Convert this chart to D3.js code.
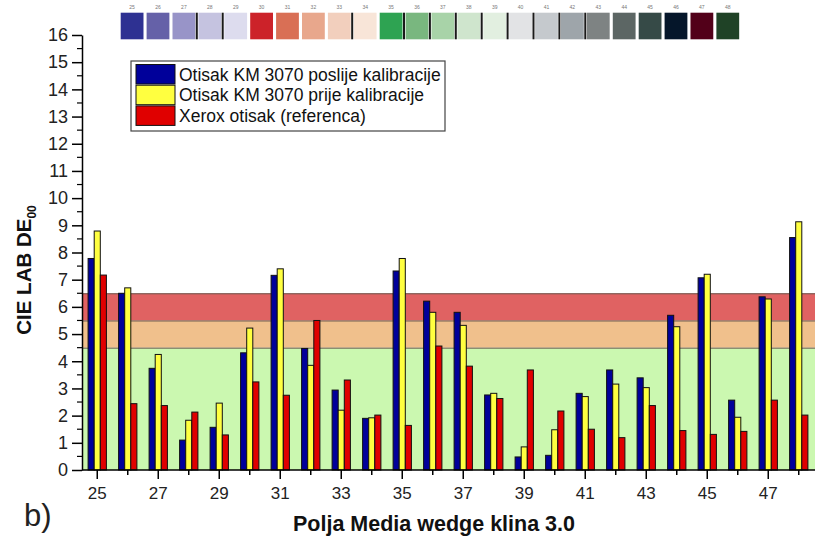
<!DOCTYPE html>
<html>
<head>
<meta charset="utf-8">
<script src="https://cdn.jsdelivr.net/npm/d3@7/dist/d3.min.js"></script>
<style>
body { margin: 0; background: #fff; }
svg { display: block; font-family: "Liberation Sans", Arial, sans-serif; }
</style>
</head>
<body>
<div id="container"></div>
<script>
// polja (patches) of the Media wedge 3.0
var fields = ["25","26","27","28","29","30","31","32","33","34","35","36",
              "37","38","39","40","41","42","43","44","45","46","47","48"];

// DE00 values per series
var poslije = [7.78, 6.50, 3.74, 1.10, 1.57, 4.31, 7.16, 4.47, 2.94, 1.90, 7.32, 6.21,
               5.80, 2.76, 0.48, 0.54, 2.82, 3.68, 3.39, 5.69, 7.07, 2.57, 6.37, 8.55];
var prije   = [8.79, 6.70, 4.25, 1.83, 2.46, 5.22, 7.40, 3.85, 2.20, 1.92, 7.78, 5.80,
               5.32, 2.82, 0.85, 1.48, 2.70, 3.16, 3.03, 5.27, 7.20, 1.94, 6.29, 9.13];
var xerox   = [7.17, 2.44, 2.37, 2.13, 1.29, 3.24, 2.75, 5.50, 3.31, 2.02, 1.64, 4.56,
               3.82, 2.63, 3.68, 2.17, 1.50, 1.19, 2.37, 1.45, 1.31, 1.42, 2.57, 2.02];

var seriesNames = ["Otisak KM 3070 poslije kalibracije",
                   "Otisak KM 3070 prije kalibracije",
                   "Xerox otisak (referenca)"];
var seriesColors = ["#00009a", "#ffff40", "#e00000"];

// tolerance zones
var zoneFrom = [0, 4.5, 5.5];
var zoneTo = [4.5, 5.5, 6.5];
var zoneColors = ["#cbf8b0", "#f0c08c", "#e06262"];

// colour strip of the wedge patches
var swatchColors = ["#2e3192","#6561a8","#9894c8","#c5c3e0","#dddcee","#cc2229",
                    "#d96f55","#e8a78c","#f2cfbd","#f8e5d8","#2ea352","#79b77f",
                    "#a8d3a8","#cfe5cd","#e2efe0","#e2e3e5","#c5c9cd","#9ea5aa",
                    "#7e8383","#5c6664","#364a47","#05162a","#520019","#1f4226"];
var separated = ["28","29","34","36","37","38","39","40","41","42","43"];

var yTicks = d3.range(0, 17);
var yMinor = d3.range(0.5, 16, 1);

function init() {
    var W = 815, H = 541;
    var left = 82, bottom = 470, top = 35;

    var svg = d3.select("#container")
        .append("svg")
        .attr("width", W)
        .attr("height", H);

    var x = d3.scaleBand().domain(fields)
        .range([left, left + 24 * 30.5])
        .paddingInner(0.4).paddingOuter(0.2);
    var xs = d3.scaleBand().domain([0, 1, 2]).range([0, x.bandwidth()]);
    var y = d3.scaleLinear().domain([0, 16]).range([bottom, top]);

    // zones
    svg.selectAll(".zone")
        .data(zoneFrom)
        .enter()
        .append("rect")
        .attr("class", "zone")
        .attr("x", left)
        .attr("width", W - left)
        .attr("y", function (d, i) { return y(zoneTo[i]); })
        .attr("height", function (d, i) { return y(d) - y(zoneTo[i]); })
        .attr("fill", function (d, i) { return zoneColors[i]; });

    svg.selectAll(".zline")
        .data(zoneTo)
        .enter()
        .append("line")
        .attr("x1", left).attr("x2", W)
        .attr("y1", function (d) { return y(d) + 0.5; })
        .attr("y2", function (d) { return y(d) + 0.5; })
        .attr("stroke", "#6a5a50")
        .attr("stroke-width", 1);

    // bars
    var all = [poslije, prije, xerox];
    all.forEach(function (vals, s) {
        svg.append("g").selectAll("rect")
            .data(vals)
            .enter()
            .append("rect")
            .attr("x", function (d, i) { return x(fields[i]) + xs(s); })
            .attr("y", function (d) { return y(d); })
            .attr("width", xs.bandwidth())
            .attr("height", function (d) { return y(0) - y(d); })
            .attr("fill", seriesColors[s])
            .attr("stroke", "#111")
            .attr("stroke-width", 1);
    });

    // y axis
    var yAxis = svg.append("g")
        .attr("transform", "translate(" + left + ",0)")
        .call(d3.axisLeft(y).tickValues(yTicks).tickSize(10).tickSizeOuter(0).tickPadding(4));
    yAxis.selectAll("text").style("font-size", "18px").attr("fill", "#222");
    yAxis.select(".domain").attr("stroke-width", 1.5);
    yAxis.selectAll(".tick line").attr("stroke-width", 1.5);
    yAxis.selectAll(".minor")
        .data(yMinor)
        .enter()
        .append("line")
        .attr("x1", -5).attr("x2", 0)
        .attr("y1", function (d) { return y(d); })
        .attr("y2", function (d) { return y(d); })
        .attr("stroke", "#000")
        .attr("stroke-width", 1.2);

    // x axis
    var xAxis = svg.append("g")
        .attr("transform", "translate(0," + bottom + ")")
        .call(d3.axisBottom(x).tickSize(9).tickSizeOuter(0).tickPadding(8)
            .tickFormat(function (d) { return (+d) % 2 ? d : ""; }));
    xAxis.select(".domain").attr("d", "M" + left + ",0H" + W).attr("stroke-width", 1.5);
    xAxis.selectAll(".tick line")
        .attr("stroke-width", 1.5)
        .attr("y2", function (d) { return (+d) % 2 ? 9 : 5; });
    xAxis.selectAll("text").style("font-size", "17px").attr("fill", "#222");

    // axis titles
    var yt = svg.append("text")
        .attr("transform", "translate(31,270) rotate(-90)")
        .attr("text-anchor", "middle")
        .style("font-size", "20.5px")
        .style("font-weight", "bold")
        .attr("fill", "#111");
    yt.append("tspan").text("CIE LAB DE");
    yt.append("tspan").attr("dy", 5).style("font-size", "12px").text("00");

    svg.append("text")
        .attr("x", 434)
        .attr("y", 531)
        .attr("text-anchor", "middle")
        .style("font-size", "21.5px")
        .style("font-weight", "bold")
        .attr("fill", "#111")
        .text("Polja Media wedge klina 3.0");

    svg.append("text")
        .attr("x", 24)
        .attr("y", 526)
        .style("font-size", "31px")
        .attr("fill", "#222")
        .text("b)");

    // legend
    var leg = svg.append("g").attr("transform", "translate(131,61)");
    leg.append("rect")
        .attr("width", 314).attr("height", 70)
        .attr("fill", "#fff")
        .attr("stroke", "#444")
        .attr("stroke-width", 1.2);
    var item = leg.selectAll(".item")
        .data(seriesNames)
        .enter()
        .append("g")
        .attr("transform", function (d, i) { return "translate(5," + (3.5 + i * 20.7) + ")"; });
    item.append("rect")
        .attr("width", 39).attr("height", 19.5)
        .attr("fill", function (d, i) { return seriesColors[i]; })
        .attr("stroke", "#111");
    item.append("text")
        .attr("x", 43)
        .attr("y", 16)
        .style("font-size", "17.5px")
        .attr("fill", "#111")
        .text(function (d) { return d; });

    // colour strip
    var sx = d3.scaleBand().domain(fields).range([120.7, 120.7 + 24 * 25.77]).paddingInner(0.12).paddingOuter(0);
    svg.selectAll(".sw")
        .data(swatchColors)
        .enter()
        .append("rect")
        .attr("x", function (d, i) { return sx(fields[i]); })
        .attr("y", 12.7)
        .attr("width", sx.bandwidth())
        .attr("height", 26.6)
        .attr("fill", function (d) { return d; });
    svg.selectAll(".swl")
        .data(fields)
        .enter()
        .append("text")
        .attr("x", function (d) { return sx(d) + sx.bandwidth() / 2; })
        .attr("y", 9)
        .attr("text-anchor", "middle")
        .style("font-size", "5px")
        .attr("fill", "#777")
        .text(function (d) { return d; });
    svg.selectAll(".sep")
        .data(separated)
        .enter()
        .append("rect")
        .attr("x", function (d) { return sx(d) - 2.6; })
        .attr("y", 12.7)
        .attr("width", 2)
        .attr("height", 26.6)
        .attr("fill", "#1a1a1a");
}
init();
</script>
</body>
</html>
